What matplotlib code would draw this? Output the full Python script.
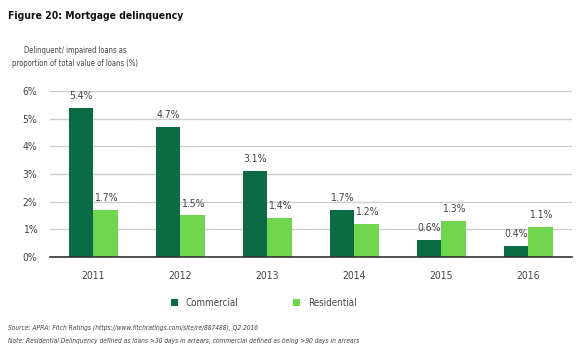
import numpy as np
import matplotlib.pyplot as plt

# Mortgage delinquency, % of total loan value
years = ['2011', '2012', '2013', '2014', '2015', '2016']
commercial = [5.4, 4.7, 3.1, 1.7, 0.6, 0.4]
residential = [1.7, 1.5, 1.4, 1.2, 1.3, 1.1]

dark = '#0b6b45'
light = '#6fd64e'
grey = '#444444'

plt.rcParams['font.family'] = ['DejaVu Sans']
plt.rcParams['font.stretch'] = 'condensed'

fig = plt.figure(figsize=(5.8, 3.52), dpi=100)
ax = fig.add_axes([0.086, 0.27, 0.90, 0.4716])

x = np.arange(len(years))
w = 0.28
b1 = ax.bar(x - w / 2, commercial, w, color=dark, label='Commercial', zorder=3)
b2 = ax.bar(x + w / 2, residential, w, color=light, label='Residential', zorder=3)

for bars, vals in [(b1, commercial), (b2, residential)]:
    for r, v in zip(bars, vals):
        ax.annotate(f'{v:.1f}%', (r.get_x() + r.get_width() / 2, v),
                    xytext=(0, 5), textcoords='offset points',
                    ha='center', va='bottom', fontsize=7.5, color=grey)

ax.set_xlim(-0.5, len(years) - 0.5)
ax.set_ylim(0, 6)
ax.set_yticks(range(7))
ax.set_yticklabels([f'{i}%' for i in range(7)])
ax.set_xticks(x)
ax.set_xticklabels(years)
ax.tick_params(length=0, labelsize=7.5, colors=grey)
ax.tick_params(axis='x', pad=10)
ax.tick_params(axis='y', pad=9)
ax.grid(axis='y', color='#cccccc', linewidth=1, zorder=0)
for s in ['top', 'right', 'left']:
    ax.spines[s].set_visible(False)
ax.spines['bottom'].set_color('#333333')
ax.spines['bottom'].set_linewidth(1.2)
ax.spines['bottom'].set_zorder(4)

ax.legend(loc='center', bbox_to_anchor=(0.41, -0.275), ncol=2, frameon=False,
          fontsize=7, handlelength=0.7, handleheight=0.7, columnspacing=5.6,
          labelcolor=grey)

fig.text(0.014, 0.945, 'Figure 20: Mortgage delinquency', fontsize=7.5, fontweight='bold',
         color='#111111')
fig.text(0.13, 0.838, 'Delinquent/ impaired loans as\nproportion of total value of loans (%)',
         ha='center', va='center', fontsize=5.5, color=grey, linespacing=1.5)
fig.text(0.014, 0.064, 'Source: APRA; Fitch Ratings (https://www.fitchratings.com/site/re/887488), Q2 2016',
         fontsize=4.8, style='italic', color=grey)
fig.text(0.014, 0.026, 'Note: Residential Delinquency defined as loans >30 days in arrears, commercial defined as being >90 days in arrears',
         fontsize=4.8, style='italic', color=grey)

fig.savefig('out.png', dpi=100)
